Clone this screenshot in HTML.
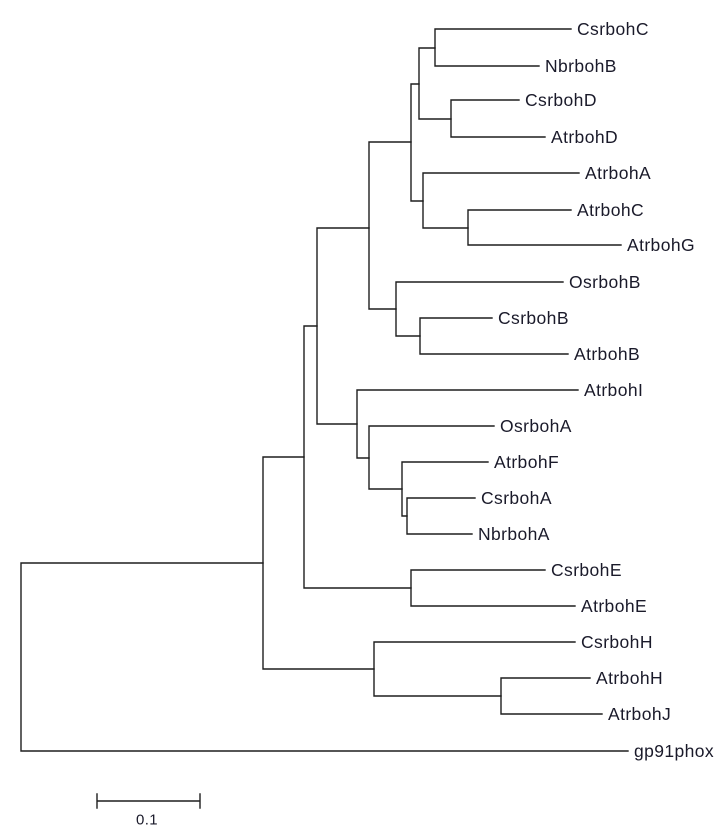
<!DOCTYPE html>
<html><head><meta charset="utf-8"><style>
html,body{margin:0;padding:0;background:#fff;}
svg{display:block;}
text{font-family:"Liberation Sans",Arial,sans-serif;font-size:17.5px;fill:#1a1a2a;letter-spacing:0.4px;}
</style></head><body>
<svg width="724" height="828" viewBox="0 0 724 828" xmlns="http://www.w3.org/2000/svg">
<g stroke="#1e1e1e" stroke-width="1.4" fill="none" stroke-linecap="square">
<!-- root -->
<path d="M21 563V751M21 563H263M21 751H628"/>
<path d="M263 457V669M263 457H304M263 669H374"/>
<path d="M304 326V588M304 326H317M304 588H411"/>
<path d="M411 570V606M411 570H545M411 606H575"/>
<path d="M374 642V696M374 642H575M374 696H501"/>
<path d="M501 678V714M501 678H590M501 714H602"/>
<path d="M317 228V424M317 228H369M317 424H357"/>
<path d="M357 390V458M357 390H578M357 458H369"/>
<path d="M369 426V489M369 426H494M369 489H402"/>
<path d="M402 462V516M402 462H488M402 516H407"/>
<path d="M407 498V534M407 498H475M407 534H472"/>
<path d="M369 142V309M369 142H411M369 309H396"/>
<path d="M396 282V336M396 282H563M396 336H420"/>
<path d="M420 318V354M420 318H492M420 354H568"/>
<path d="M411 84V201M411 84H419M411 201H423"/>
<path d="M419 48V119M419 48H435M419 119H451"/>
<path d="M435 29V66M435 29H571M435 66H539"/>
<path d="M451 100V137M451 100H519M451 137H545"/>
<path d="M423 173V228M423 173H579M423 228H468"/>
<path d="M468 210V245M468 210H571M468 245H621"/>
<path d="M97 794V808M200 794V808M97 801H200"/>
</g>
<g dominant-baseline="central">
<text x="577" y="29">CsrbohC</text>
<text x="545" y="66">NbrbohB</text>
<text x="525" y="100">CsrbohD</text>
<text x="551" y="137">AtrbohD</text>
<text x="585" y="173">AtrbohA</text>
<text x="577" y="210">AtrbohC</text>
<text x="627" y="245">AtrbohG</text>
<text x="569" y="282">OsrbohB</text>
<text x="498" y="318">CsrbohB</text>
<text x="574" y="354">AtrbohB</text>
<text x="584" y="390">AtrbohI</text>
<text x="500" y="426">OsrbohA</text>
<text x="494" y="462">AtrbohF</text>
<text x="481" y="498">CsrbohA</text>
<text x="478" y="534">NbrbohA</text>
<text x="551" y="570">CsrbohE</text>
<text x="581" y="606">AtrbohE</text>
<text x="581" y="642">CsrbohH</text>
<text x="596" y="678">AtrbohH</text>
<text x="608" y="714">AtrbohJ</text>
<text x="634" y="751">gp91phox</text>
<text x="136" y="820" style="font-size:15px">0.1</text>
</g>
</svg>
</body></html>
